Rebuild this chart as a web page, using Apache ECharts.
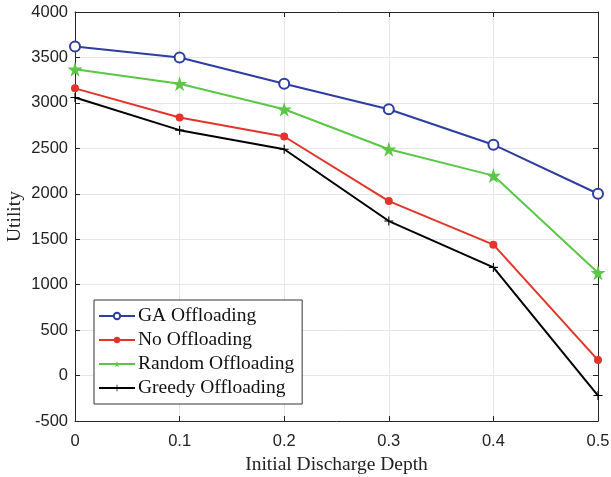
<!DOCTYPE html>
<html>
<head>
<meta charset="utf-8">
<script src="https://cdn.jsdelivr.net/npm/echarts@6/dist/echarts.min.js"></script>
<style>
  html, body { margin: 0; padding: 0; background: #fff; }
  #chart { width: 611px; height: 477px; }
</style>
</head>
<body>
<div id="chart"></div>
<script>
// discharge depths along x
const depths = [0, 0.1, 0.2, 0.3, 0.4, 0.5];

// utility values
const gaOffloading = [3620, 3500, 3210, 2930, 2540, 2000];
const noOffloading = [3160, 2840, 2630, 1920, 1440, 170];
const randomOffloading = [3370, 3210, 2930, 2490, 2200, 1130];
const greedyOffloading = [3060, 2700, 2490, 1700, 1190, -220];

const seriesNames = ['GA Offloading', 'No Offloading', 'Random Offloading', 'Greedy Offloading'];

const starPath = 'path://M50,0 L61,35 L98,35 L68,57 L79,91 L50,70 L21,91 L32,57 L2,35 L39,35 Z';
const plusPath = 'path://M44,0 L56,0 L56,44 L100,44 L100,56 L56,56 L56,100 L44,100 L44,56 L0,56 L0,44 L44,44 Z';

const axisColor = '#262626';
const sansFont = '"Liberation Sans", Arial, sans-serif';
const serifFont = '"Liberation Serif", "Times New Roman", serif';

const pair = (ys) => depths.map((x, i) => [x, ys[i]]);

const chart = echarts.init(document.getElementById('chart'));

const mkSeries = (name, ys, color, symbol, size, extra) => Object.assign({
  name: name,
  type: 'line',
  data: pair(ys),
  symbol: symbol,
  symbolSize: size,
  showAllSymbol: true,
  lineStyle: { color: color, width: 2 },
  itemStyle: { color: color },
  emphasis: { disabled: true },
  z: 5
}, extra || {});

chart.setOption({
  animation: false,
  grid: { left: 75, right: 13, top: 12, bottom: 56, outerBoundsMode: 'none', containLabel: false },
  legend: {
    orient: 'vertical',
    left: 94,
    top: 300,
    itemWidth: 36,
    itemHeight: 8,
    itemGap: 4,
    padding: [6, 8, 6, 4],
    backgroundColor: '#fff',
    borderColor: '#333',
    borderWidth: 1,
    textStyle: { fontFamily: serifFont, fontSize: 19.5, color: '#111', lineHeight: 20, padding: [0, 0, 0, -2] },
    data: seriesNames
  },
  xAxis: [
    {
      type: 'value',
      min: 0,
      max: 0.5,
      interval: 0.1,
      name: 'Initial Discharge Depth',
      nameLocation: 'middle',
      nameGap: 34,
      nameTextStyle: { fontFamily: serifFont, fontSize: 19.5, color: '#222' },
      axisLine: { onZero: false, lineStyle: { color: axisColor } },
      axisTick: { inside: true, length: 5, lineStyle: { color: axisColor } },
      axisLabel: {
        fontFamily: sansFont, fontSize: 16.5, color: '#222', margin: 12,
        formatter: (v) => v === 0 ? '0' : String(+v.toFixed(1))
      },
      splitLine: { show: true, lineStyle: { color: '#e6e6e6' } }
    },
    {
      type: 'value',
      position: 'top',
      min: 0,
      max: 0.5,
      interval: 0.1,
      axisLine: { onZero: false, lineStyle: { color: axisColor } },
      axisTick: { inside: true, length: 5, lineStyle: { color: axisColor } },
      axisLabel: { show: false },
      splitLine: { show: false }
    }
  ],
  yAxis: [
    {
      type: 'value',
      min: -500,
      max: 4000,
      interval: 500,
      name: 'Utility',
      nameLocation: 'middle',
      nameGap: 50,
      nameMoveOverlap: false,
      nameTextStyle: { fontFamily: serifFont, fontSize: 19.5, color: '#222' },
      axisLine: { show: true, onZero: false, lineStyle: { color: axisColor } },
      axisTick: { show: true, inside: true, length: 5, lineStyle: { color: axisColor } },
      axisLabel: { fontFamily: sansFont, fontSize: 16.5, color: '#222', margin: 7, formatter: (v) => String(v) },
      splitLine: { show: true, lineStyle: { color: '#e6e6e6' } }
    },
    {
      type: 'value',
      position: 'right',
      min: -500,
      max: 4000,
      interval: 500,
      axisLine: { show: true, onZero: false, lineStyle: { color: axisColor } },
      axisTick: { show: true, inside: true, length: 5, lineStyle: { color: axisColor } },
      axisLabel: { show: false },
      splitLine: { show: false }
    }
  ],
  series: [
    mkSeries(seriesNames[0], gaOffloading, '#2d3da0', 'emptyCircle', 10, { itemStyle: { color: '#2d3da0', borderWidth: 2 } }),
    mkSeries(seriesNames[1], noOffloading, '#e3342b', 'circle', 8),
    mkSeries(seriesNames[2], randomOffloading, '#5cc646', starPath, 15),
    mkSeries(seriesNames[3], greedyOffloading, '#000000', plusPath, 9)
  ]
});
</script>
</body>
</html>
